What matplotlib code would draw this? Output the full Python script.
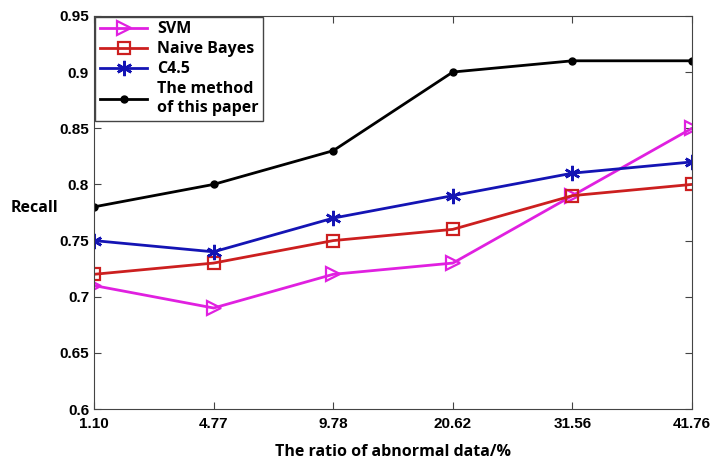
import matplotlib
matplotlib.use('Agg')
import matplotlib.pyplot as plt

# dane
ratios = ["1.10", "4.77", "9.78", "20.62", "31.56", "41.76"]
svm = [0.71, 0.69, 0.72, 0.73, 0.79, 0.85]
naive_bayes = [0.72, 0.73, 0.75, 0.76, 0.79, 0.80]
c45 = [0.75, 0.74, 0.77, 0.79, 0.81, 0.82]
method = [0.78, 0.80, 0.83, 0.90, 0.91, 0.91]
yticks = [0.6, 0.65, 0.7, 0.75, 0.8, 0.85, 0.9, 0.95]
ytick_labels = ["0.6", "0.65", "0.7", "0.75", "0.8", "0.85", "0.9", "0.95"]

fig = plt.figure(figsize=(7.12, 4.66), dpi=100)
ax = fig.add_axes([0.132, 0.122, 0.840, 0.844])

x = list(range(len(ratios)))
ax.plot(x, svm, color='#e020e0', marker='>', markersize=10, markerfacecolor='none',
        markeredgewidth=1.6, linewidth=2, label='SVM')
ax.plot(x, naive_bayes, color='#cc1f1f', marker='s', markersize=8, markerfacecolor='none',
        markeredgewidth=1.6, linewidth=2, label='Naive Bayes')
ax.plot(x, c45, color='#1414b4', marker=(6, 2, 0), markersize=11,
        markeredgewidth=1.8, linewidth=2, label='C4.5')
ax.plot(x, method, color='black', marker='o', markersize=5, linewidth=2,
        label='The method\nof this paper')

ax.set_xlim(0, len(ratios) - 1)
ax.set_ylim(0.6, 0.95)
ax.set_xticks(x)
ax.set_xticklabels(ratios)
ax.set_yticks(yticks)
ax.set_yticklabels(ytick_labels)
ax.tick_params(direction='in', top=True, right=True, length=5, color='#444444')
ax.tick_params(axis='x', pad=6)
for lab in ax.get_xticklabels() + ax.get_yticklabels():
    lab.set_fontfamily('Liberation Sans')
    lab.set_fontweight('bold')
    lab.set_fontsize(11)
for s in ax.spines.values():
    s.set_color('#444444')

ax.set_xlabel("The ratio of abnormal data/%", fontsize=11.5, fontweight='bold',
              family='Open Sans', labelpad=9)
ax.set_ylabel("Recall", fontsize=11.5, fontweight='bold', family='Open Sans',
              rotation=0, labelpad=0)
ax.yaxis.set_label_coords(-0.1, 0.49)

leg = ax.legend(loc='upper left', prop={'family': 'Open Sans', 'weight': 'bold', 'size': 11.5},
                fancybox=False, framealpha=1, edgecolor='#444444', borderaxespad=0.05,
                handlelength=3.0, labelspacing=0.25, borderpad=0.3, handletextpad=0.6)
leg.get_frame().set_linewidth(1)

fig.savefig('out.png', dpi=100)
